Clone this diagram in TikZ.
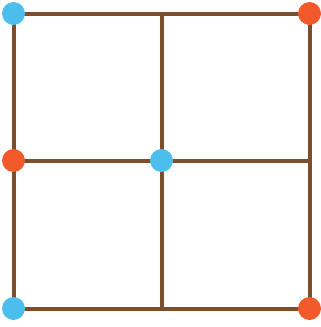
\documentclass[tikz,border=0pt]{standalone}
\usepackage{xcolor}
\usepackage{tikz}
\usetikzlibrary{positioning,calc}
\definecolor{gridBrown}{HTML}{7B4F2C}
\definecolor{dotBlue}{HTML}{4CBEEC}
\definecolor{dotOrange}{HTML}{F25A2C}
\tikzset{
  rejilla/.style={draw=gridBrown, line width=4pt, line cap=rect},
  punto/.style={circle, inner sep=0pt, minimum size=23pt, fill=#1},
}

\begin{document}
\begin{tikzpicture}[x=1pt, y=-1pt]
\useasboundingbox (0,0) rectangle (321,327);
% esquinas y puntos medios
\coordinate (tl) at (13.5,13.5);
\coordinate (tm) at (161.5,13.5);
\coordinate (tr) at (309.5,13.5);
\coordinate (ml) at (13.5,160.5);
\coordinate (mm) at (161.5,160.5);
\coordinate (mr) at (309.5,160.5);
\coordinate (bl) at (13.5,308.5);
\coordinate (bm) at (161.5,308.5);
\coordinate (br) at (309.5,308.5);
\draw[rejilla] (tl) -- (tr) -- (br) -- (bl) -- cycle;
\draw[rejilla] (tm) -- (bm);
\draw[rejilla] (ml) -- (mr);
% puntos
\node[punto=dotBlue] (p1) at (tl) {};
\node[punto=dotOrange] (p2) at (tr) {};
\node[punto=dotOrange] (p3) at (ml) {};
\node[punto=dotBlue] (p4) at (mm) {};
\node[punto=dotBlue] (p5) at (bl) {};
\node[punto=dotOrange] (p6) at (br) {};
\end{tikzpicture}
\end{document}
